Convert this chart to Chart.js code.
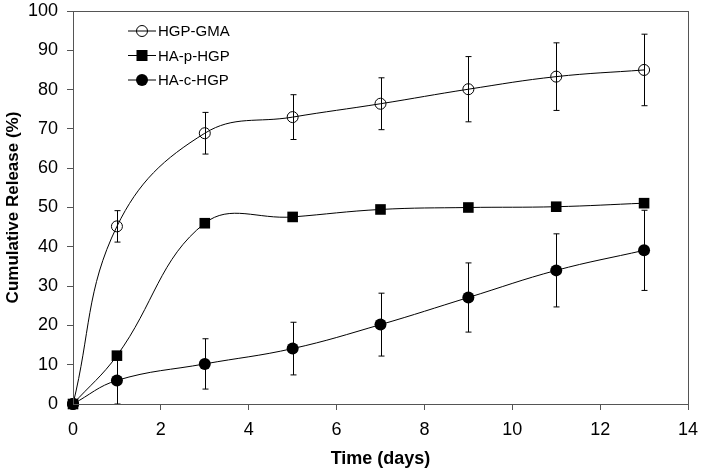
<!DOCTYPE html>
<html>
<head>
<meta charset="utf-8">
<script src="https://cdn.jsdelivr.net/npm/chart.js@4.4.0/dist/chart.umd.min.js"></script>
<style>
    html, body { margin: 0; padding: 0; background: #fff; }
    #wrap { width: 704px; height: 472px; position: relative; }
</style>
</head>
<body>
<div id="wrap"><canvas id="chart"></canvas></div>
<script>
// ─── Data ──────────────────────────────────────────────────
const DAYS = [0, 1, 3, 5, 7, 9, 11, 13];

const GMA_VALUES = [0, 45.2, 68.9, 73.0, 76.4, 80.1, 83.3, 85.0];
const GMA_ERRORS = [0, 4.0, 5.3, 5.7, 6.6, 8.3, 8.6, 9.1];

const HAP_VALUES = [0, 12.3, 46.0, 47.6, 49.5, 50.0, 50.2, 51.1];
const HAP_ERRORS = [0, 0, 0, 0, 0, 0, 0, 0];

const HAC_VALUES = [0, 6.0, 10.2, 14.1, 20.2, 27.1, 34.0, 39.1];
const HAC_ERRORS = [0, 6.0, 6.4, 6.7, 8.0, 8.8, 9.3, 10.2];

const SERIES_LABELS = ['HGP-GMA', 'HA-p-HGP', 'HA-c-HGP'];
const X_TICKS = [0, 2, 4, 6, 8, 10, 12, 14];
const Y_TICKS = [0, 10, 20, 30, 40, 50, 60, 70, 80, 90, 100];

const FONT = "Arial, 'Liberation Sans', sans-serif";
Chart.defaults.font.family = FONT;
Chart.defaults.color = '#000';

const toPoints = vals => DAYS.map((d, i) => ({ x: d, y: vals[i] }));

// error bars, drawn through the chart's own scales
const errorBars = {
    id: 'errorBars',
    afterDatasetsDraw(chart) {
        const { ctx, scales: { x, y } } = chart;
        ctx.save();
        ctx.strokeStyle = '#000';
        ctx.lineWidth = 1;
        chart.data.datasets.forEach(ds => {
            if (!ds.errors) return;
            ds.data.forEach((p, i) => {
                const e = ds.errors[i];
                if (!e) return;
                const px = Math.round(x.getPixelForValue(p.x)) + 0.5;
                const top = y.getPixelForValue(p.y + e);
                const bot = y.getPixelForValue(Math.max(0, p.y - e));
                ctx.beginPath();
                ctx.moveTo(px, top); ctx.lineTo(px, bot);
                ctx.moveTo(px - 3, top); ctx.lineTo(px + 3, top);
                ctx.moveTo(px - 3, bot); ctx.lineTo(px + 3, bot);
                ctx.stroke();
            });
        });
        ctx.restore();
    }
};

// frame round the plot area
const frame = {
    id: 'frame',
    afterDraw(chart) {
        const { ctx, chartArea: a } = chart;
        ctx.save();
        ctx.strokeStyle = '#555';
        ctx.lineWidth = 1;
        ctx.strokeRect(Math.round(a.left) + 0.5, Math.round(a.top) + 0.5,
            Math.round(a.right - a.left), Math.round(a.bottom - a.top));
        ctx.restore();
    }
};

// legend inside the top-left of the plot
const insideLegend = {
    id: 'insideLegend',
    afterDraw(chart) {
        const { ctx, chartArea: a } = chart;
        ctx.save();
        ctx.font = '15px ' + FONT;
        ctx.textBaseline = 'middle';
        chart.data.datasets.forEach((ds, i) => {
            const yy = a.top + 20 + i * 24.5;
            const x0 = a.left + 55;
            ctx.strokeStyle = '#000';
            ctx.lineWidth = 1;
            ctx.beginPath();
            ctx.moveTo(x0, yy); ctx.lineTo(x0 + 28, yy);
            ctx.stroke();
            ctx.fillStyle = '#000';
            const cx = x0 + 14;
            ctx.beginPath();
            if (ds.pointStyle === 'rect') {
                ctx.fillRect(cx - 5.5, yy - 5.5, 11, 11);
            } else if (ds.pointBackgroundColor === '#000') {
                ctx.arc(cx, yy, 6, 0, Math.PI * 2);
                ctx.fill();
            } else {
                ctx.arc(cx, yy, 5.5, 0, Math.PI * 2);
                ctx.stroke();
            }
            ctx.fillText(ds.label, x0 + 30, yy + 1);
        });
        ctx.restore();
    }
};

new Chart(document.getElementById('chart'), {
    type: 'line',
    data: {
        datasets: [
            {
                label: SERIES_LABELS[0],
                data: toPoints(GMA_VALUES),
                errors: GMA_ERRORS,
                borderColor: '#000',
                borderWidth: 1,
                tension: 0.4,
                clip: false,
                pointStyle: 'circle',
                pointRadius: 5.5,
                pointBackgroundColor: 'rgba(0,0,0,0)',
                pointBorderColor: '#000',
                pointBorderWidth: 1,
                order: 3,
            },
            {
                label: SERIES_LABELS[1],
                data: toPoints(HAP_VALUES),
                errors: HAP_ERRORS,
                borderColor: '#000',
                borderWidth: 1,
                tension: 0.4,
                clip: false,
                pointStyle: 'rect',
                pointRadius: 7.5,
                pointBackgroundColor: '#000',
                pointBorderColor: '#000',
                pointBorderWidth: 0,
                order: 1,
            },
            {
                label: SERIES_LABELS[2],
                data: toPoints(HAC_VALUES),
                errors: HAC_ERRORS,
                borderColor: '#000',
                borderWidth: 1,
                tension: 0.4,
                clip: false,
                pointStyle: 'circle',
                pointRadius: 6,
                pointBackgroundColor: '#000',
                pointBorderColor: '#000',
                pointBorderWidth: 0,
                order: 2,
            },
        ]
    },
    options: {
        responsive: true,
        maintainAspectRatio: false,
        animation: false,
        layout: { padding: { left: 0, right: 16, top: 11, bottom: 0 } },
        plugins: { legend: { display: false }, tooltip: { enabled: false } },
        scales: {
            x: {
                type: 'linear',
                min: 0, max: 14,
                afterBuildTicks: s => { s.ticks = X_TICKS.map(v => ({ value: v })); },
                afterFit: s => { s.height = 68; s.paddingLeft = 0; s.paddingRight = 0; },
                grid: { drawOnChartArea: false, drawTicks: true, tickLength: 6, color: '#555' },
                border: { color: '#555' },
                ticks: { font: { size: 18 }, padding: 9, color: '#000' },
                title: { display: true, text: 'Time (days)', font: { size: 18, weight: 'bold' }, padding: { top: 0, bottom: 2 }, color: '#000' },
            },
            y: {
                min: 0, max: 100,
                afterBuildTicks: s => { s.ticks = Y_TICKS.map(v => ({ value: v })); },
                afterFit: s => { s.width = 73; s.paddingTop = 0; s.paddingBottom = 0; },
                grid: { drawOnChartArea: false, drawTicks: true, tickLength: 6, color: '#555' },
                border: { color: '#555' },
                ticks: { font: { size: 18 }, padding: 9, color: '#000' },
                title: { display: true, text: 'Cumulative Release (%)', font: { size: 17, weight: 'bold' }, padding: { top: 3, bottom: 0 }, color: '#000' },
            },
        },
    },
    plugins: [errorBars, frame, insideLegend],
});
</script>
</body>
</html>
